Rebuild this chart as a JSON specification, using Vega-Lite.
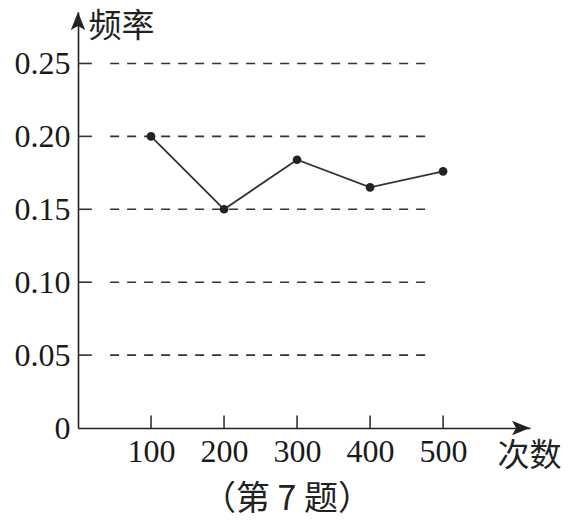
{
  "$schema": "https://vega.github.io/schema/vega-lite/v6.json",
  "width": 452,
  "height": 416,
  "autosize": {"type": "none"},
  "padding": {"left": 78, "top": 12, "right": 38, "bottom": 94},
  "background": "white",
  "datasets": {
    "freq": [
      {"n": 100, "f": 0.2},
      {"n": 200, "f": 0.15},
      {"n": 300, "f": 0.184},
      {"n": 400, "f": 0.165},
      {"n": 500, "f": 0.176}
    ],
    "grid": [
      {"g": 0.05}, {"g": 0.1}, {"g": 0.15}, {"g": 0.2}, {"g": 0.25}
    ],
    "xticks": [
      {"t": 100}, {"t": 200}, {"t": 300}, {"t": 400}, {"t": 500}
    ],
    "one": [{}]
  },
  "title": {
    "text": "（第 7 题）",
    "orient": "bottom",
    "anchor": "middle",
    "dx": -17,
    "offset": 12,
    "font": "Noto Sans CJK SC",
    "fontSize": 34,
    "fontWeight": "normal",
    "color": "#222"
  },
  "layer": [
    {
      "data": {"name": "grid"},
      "mark": {"type": "rule", "color": "#333", "strokeWidth": 1.6, "strokeDash": [9, 8]},
      "encoding": {
        "y": {"field": "g", "type": "quantitative"},
        "x": {"datum": 44, "type": "quantitative"},
        "x2": {"datum": 478}
      }
    },
    {
      "data": {"name": "grid"},
      "mark": {"type": "rule", "color": "#333", "strokeWidth": 1.6},
      "encoding": {
        "y": {"field": "g", "type": "quantitative"},
        "x": {"datum": 0, "type": "quantitative"},
        "x2": {"datum": 19}
      }
    },
    {
      "data": {"name": "xticks"},
      "mark": {"type": "rule", "color": "#333", "strokeWidth": 1.6},
      "encoding": {
        "x": {"field": "t", "type": "quantitative"},
        "y": {"datum": 0, "type": "quantitative"},
        "y2": {"datum": 0.0085}
      }
    },
    {
      "data": {"name": "freq"},
      "mark": {"type": "line", "color": "#333", "strokeWidth": 1.8},
      "encoding": {
        "x": {
          "field": "n", "type": "quantitative",
          "scale": {"domain": [0, 619], "nice": false, "zero": true},
          "axis": {
            "values": [100, 200, 300, 400, 500],
            "title": "次数",
            "titleX": 419, "titleY": 27,
            "titleAlign": "left", "titleBaseline": "middle", "titleAngle": 0,
            "titleFont": "Noto Sans CJK SC", "titleFontSize": 32, "titleFontWeight": "normal",
            "titleColor": "#222",
            "labelPadding": 8
          }
        },
        "y": {
          "field": "f", "type": "quantitative",
          "scale": {"domain": [0, 0.2853], "nice": false, "zero": true},
          "axis": {
            "values": [0, 0.05, 0.1, 0.15, 0.2, 0.25],
            "labelExpr": "datum.value == 0 ? '0' : format(datum.value, '.2f')",
            "title": "频率",
            "titleX": 10, "titleY": 14,
            "titleAlign": "left", "titleBaseline": "middle", "titleAngle": 0,
            "titleFont": "Noto Sans CJK SC", "titleFontSize": 33, "titleFontWeight": "normal",
            "titleColor": "#222",
            "labelPadding": 8
          }
        }
      }
    },
    {
      "data": {"name": "freq"},
      "mark": {"type": "circle", "color": "#222", "size": 75, "opacity": 1},
      "encoding": {
        "x": {"field": "n", "type": "quantitative"},
        "y": {"field": "f", "type": "quantitative"}
      }
    },
    {
      "data": {"name": "one"},
      "mark": {"type": "point", "shape": "M0,-1L-0.8,1L0,0.55L0.8,1Z", "filled": true, "color": "#222", "opacity": 1, "size": 324, "yOffset": 9},
      "encoding": {
        "x": {"datum": 0, "type": "quantitative"},
        "y": {"datum": 0.2853, "type": "quantitative"}
      }
    },
    {
      "data": {"name": "one"},
      "mark": {"type": "point", "shape": "M0,-1L-0.8,1L0,0.55L0.8,1Z", "filled": true, "color": "#222", "opacity": 1, "size": 324, "angle": 90, "xOffset": -9},
      "encoding": {
        "x": {"datum": 619, "type": "quantitative"},
        "y": {"datum": 0, "type": "quantitative"}
      }
    }
  ],
  "config": {
    "view": {"stroke": null},
    "axis": {
      "grid": false,
      "ticks": false,
      "domainColor": "#222",
      "domainWidth": 1.6,
      "labelFont": "Liberation Serif",
      "labelFontSize": 32,
      "labelColor": "#1a1a1a"
    }
  }
}
